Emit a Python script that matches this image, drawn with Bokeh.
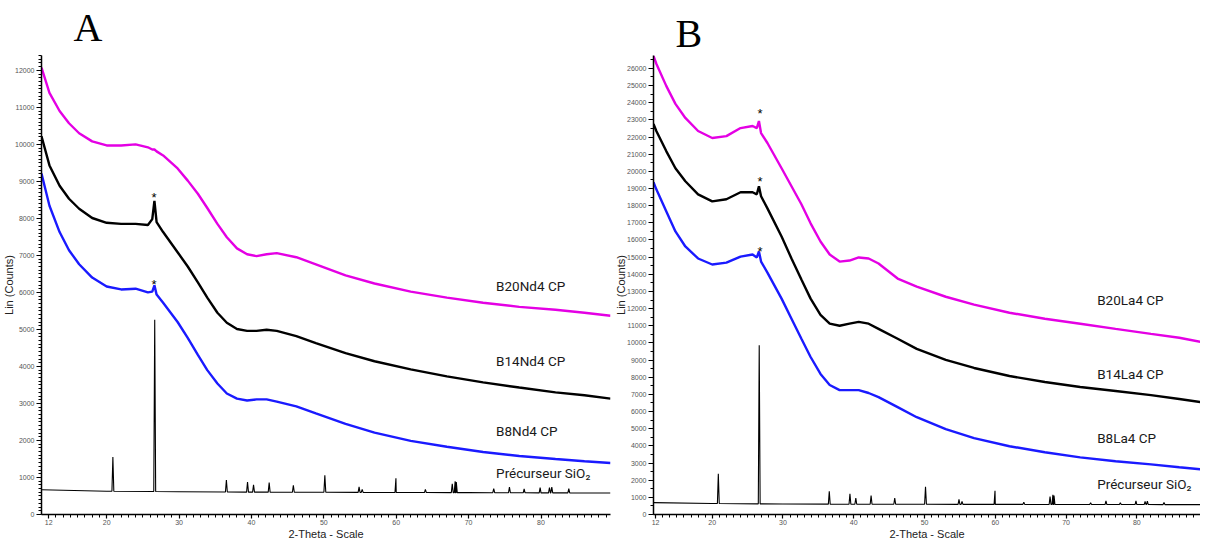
import numpy as np
from bokeh.plotting import figure
from bokeh.layouts import row
from bokeh.models import Range1d, FixedTicker, SingleIntervalTicker, Label
from bokeh.embed import file_html
from bokeh.resources import INLINE

# ---------------- data ----------------
x_tick_labels = [12, 20, 30, 40, 50, 60, 70, 80]

# Panel A (Nd series)
xA = [11.0, 12.1, 13.5, 14.8, 16.2, 18.0, 20.0, 22.0, 24.0, 25.7, 26.3, 26.6, 26.9, 27.8,
      29.8, 31.2, 32.6, 33.9, 35.3, 36.6, 38.0, 39.4, 40.7, 42.1, 43.5, 46.2, 48.9, 53.0,
      57.0, 62.0, 67.0, 72.0, 77.0, 82.0, 86.0, 89.6]
b20nd4 = [12070, 11390, 10900, 10570, 10300, 10080, 9970, 9970, 10000, 9920, 9860, 9860, 9810, 9700,
          9350, 9020, 8665, 8280, 7850, 7490, 7190, 7030, 6980, 7030, 7060, 6950, 6760, 6460,
          6240, 6020, 5860, 5720, 5610, 5530, 5450, 5370]
b14nd4 = [10220, 9430, 8880, 8530, 8260, 8010, 7880, 7850, 7850, 7820, 7980, 8470, 7900, 7630,
          7085, 6700, 6270, 5860, 5450, 5180, 5010, 4960, 4960, 4990, 4960, 4820, 4630, 4360,
          4140, 3920, 3730, 3570, 3430, 3300, 3220, 3130]
b8nd4 = [9210, 8340, 7630, 7140, 6760, 6400, 6160, 6080, 6100, 6000, 6020, 6190, 5940, 5720,
         5200, 4770, 4310, 3900, 3540, 3270, 3130, 3080, 3110, 3110, 3050, 2920, 2730, 2450,
         2210, 1990, 1830, 1690, 1580, 1500, 1440, 1390]

# Panel B (La series)
xB = [11.7, 12.1, 13.5, 14.8, 16.2, 18.0, 20.0, 22.0, 24.0, 25.7, 26.3, 26.6, 26.9, 27.8,
      29.8, 31.2, 32.6, 33.9, 35.3, 36.6, 38.0, 39.4, 40.7, 42.1, 43.5, 46.2, 48.9, 53.0,
      57.0, 62.0, 67.0, 72.0, 77.0, 82.0, 86.0, 89.0]
b20la4 = [26730, 26270, 24980, 23930, 23110, 22350, 21940, 22050, 22520, 22640, 22520, 22930, 22230, 21650,
          20180, 19130, 18080, 16970, 15910, 15150, 14740, 14800, 14980, 14920, 14630, 13750, 13280, 12690,
          12230, 11760, 11410, 11120, 10820, 10530, 10300, 10060]
b14la4 = [22760, 22350, 21180, 20180, 19420, 18660, 18250, 18370, 18780, 18780, 18660, 19130, 18550, 17840,
          16200, 14920, 13690, 12580, 11640, 11120, 11000, 11120, 11230, 11120, 10820, 10240, 9650, 9010,
          8540, 8070, 7720, 7430, 7200, 6960, 6730, 6550]
b8la4 = [19360, 18950, 17670, 16500, 15620, 14920, 14570, 14680, 15030, 15150, 14980, 15330, 14740, 14100,
         12580, 11410, 10240, 9180, 8190, 7550, 7250, 7250, 7250, 7080, 6840, 6260, 5670, 4970,
         4450, 3980, 3630, 3330, 3100, 2920, 2750, 2630]

# SiO2 precursor (quartz) pattern
peak_pos = [20.86, 26.64, 36.54, 39.46, 40.29, 42.45, 45.79, 50.14, 54.87, 55.30, 59.96,
            64.03, 67.74, 68.14, 68.30, 73.47, 75.64, 77.67, 79.88, 81.17, 81.49, 83.84]
peak_A = [1550, 5260, 930, 880, 800, 860, 790, 1060, 750, 680, 980,
          680, 830, 900, 880, 700, 740, 690, 730, 730, 740, 700]
peak_B = [2380, 9870, 1350, 1200, 950, 1100, 950, 1620, 880, 760, 1380,
          720, 1050, 1150, 1100, 680, 800, 680, 790, 760, 780, 700]
base_x_A = [11.0, 20.0, 30.0, 40.0, 50.0, 60.0, 70.0, 80.0, 89.6]
base_A = [670, 630, 615, 605, 600, 595, 590, 585, 580]
base_x_B = [11.7, 20.0, 30.0, 40.0, 50.0, 60.0, 70.0, 80.0, 89.0]
base_B = [690, 640, 610, 600, 595, 590, 585, 580, 575]

MAGENTA = "#e400e4"
BLUE = "#1a1aff"
BLACK = "#000000"
LABEL_FONT = "Roboto"


def precursor(bx, by, pos, h, w=0.13):
    xs = list(bx)
    ys = list(by)
    for p_, hh in zip(pos, h):
        b = float(np.interp(p_, bx, by))
        xs += [p_ - w, p_, p_ + w]
        ys += [b, hh, b]
    order = np.argsort(xs, kind="stable")
    return [xs[i] for i in order], [ys[i] for i in order]


def make_fig(width, xr, yr, minor_n, border_left, border_right, title, title_offset, title_standoff, valign):
    p = figure(width=width, height=542, x_range=Range1d(*xr), y_range=Range1d(*yr),
               output_backend="svg", toolbar_location=None,
               min_border_top=55, min_border_bottom=26,
               min_border_left=border_left, min_border_right=border_right)
    p.title.text = title
    p.title.text_font = "Liberation Serif"
    p.title.text_font_size = "40px"
    p.title.text_font_style = "normal"
    p.title.text_color = "black"
    p.title.align = "left"
    p.title.vertical_align = valign
    p.title.offset = title_offset
    p.title.standoff = title_standoff
    p.outline_line_color = None
    p.grid.visible = False
    p.background_fill_color = "white"
    p.border_fill_color = "white"
    p.xaxis.ticker = FixedTicker(ticks=x_tick_labels, minor_ticks=list(range(12, 90)))
    p.yaxis.ticker = SingleIntervalTicker(interval=1000, num_minor_ticks=minor_n)
    for ax in (p.xaxis[0], p.yaxis[0]):
        ax.axis_line_color = "black"
        ax.axis_line_width = 1.5
        ax.major_tick_line_color = "black"
        ax.minor_tick_line_color = "black"
        ax.major_tick_line_width = 1.2
        ax.minor_tick_line_width = 1
        ax.major_tick_in = 0
        ax.minor_tick_in = 0
        ax.major_tick_out = 5
        ax.minor_tick_out = 3
        ax.major_label_text_font = "Liberation Sans"
        ax.major_label_text_font_size = "7px"
        ax.major_label_text_color = "#555555"
        ax.axis_label_text_font = "Liberation Sans"
        ax.axis_label_text_font_size = "11px"
        ax.axis_label_text_font_style = "normal"
        ax.axis_label_text_color = "#222222"
    p.xaxis.major_tick_out = 4
    p.xaxis.major_label_standoff = 1
    p.xaxis.axis_label_standoff = 0
    p.yaxis.major_label_standoff = 2
    p.yaxis.axis_label_standoff = -3
    p.xaxis.axis_label = "2-Theta - Scale"
    p.yaxis.axis_label = "Lin (Counts)"
    return p


def add_text(p, x, y, txt, size="13.5px", font=LABEL_FONT, align="left", baseline="middle", color="#1a1a1a"):
    p.add_layout(Label(x=x, y=y, text=txt, text_font=font, text_font_size=size,
                       text_align=align, text_baseline=baseline, text_color=color))


# ---------------- panel A ----------------
pA = make_fig(612, (11.0, 89.6), (0, 12400), 10, 34, 2, "A", 32, 8, "top")
pxA, pyA = precursor(base_x_A, base_A, peak_pos, peak_A)
pA.line(pxA, pyA, color=BLACK, line_width=1.1)
pA.line(xA, b8nd4, color=BLUE, line_width=2.4)
pA.line(xA, b14nd4, color=BLACK, line_width=2.4)
pA.line(xA, b20nd4, color=MAGENTA, line_width=2.4)

add_text(pA, 73.8, 6160, "B20Nd4 CP")
add_text(pA, 73.8, 4140, "B14Nd4 CP")
add_text(pA, 73.8, 2260, "B8Nd4 CP")
add_text(pA, 73.8, 1120, "Précurseur SiO₂")
add_text(pA, 26.55, 8560, "*", size="13px", font="Liberation Sans", align="center", baseline="alphabetic", color="black")
add_text(pA, 26.55, 6210, "*", size="13px", font="Liberation Sans", align="center", baseline="alphabetic", color="black")

# ---------------- panel B ----------------
pB = make_fig(588, (11.7, 89.0), (0, 26750), 2, 29, 0, "B", 22, 0, "bottom")
pxB, pyB = precursor(base_x_B, base_B, peak_pos, peak_B)
pB.line(pxB, pyB, color=BLACK, line_width=1.1)
pB.line(xB, b8la4, color=BLUE, line_width=2.4)
pB.line(xB, b14la4, color=BLACK, line_width=2.4)
pB.line(xB, b20la4, color=MAGENTA, line_width=2.4)

add_text(pB, 74.4, 12520, "B20La4 CP")
add_text(pB, 74.4, 8190, "B14La4 CP")
add_text(pB, 74.4, 4450, "B8La4 CP")
add_text(pB, 74.4, 1790, "Précurseur SiO₂")
add_text(pB, 26.75, 23350, "*", size="13px", font="Liberation Sans", align="center", baseline="alphabetic", color="black")
add_text(pB, 26.75, 19400, "*", size="13px", font="Liberation Sans", align="center", baseline="alphabetic", color="black")
add_text(pB, 26.75, 15300, "*", size="13px", font="Liberation Sans", align="center", baseline="alphabetic", color="black")

layout = row(pA, pB, spacing=0)
open("out.html", "w").write(file_html(layout, INLINE))
